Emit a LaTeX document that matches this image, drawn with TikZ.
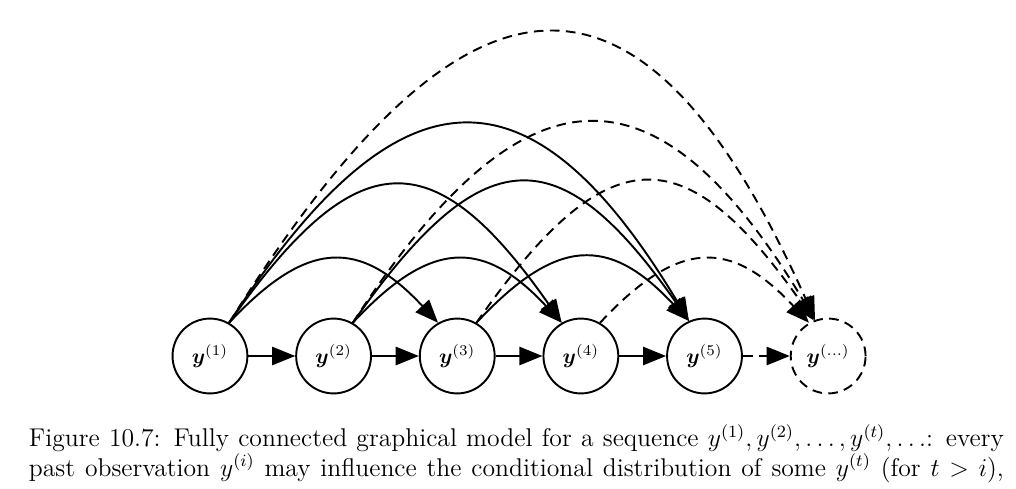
\documentclass[tikz,border=0pt]{standalone}
\usepackage{tikz}
\usetikzlibrary{positioning, arrows.meta}
\usepackage{amsmath, amssymb, bm}

\begin{document}
\begin{tikzpicture}[>={Triangle[length=3.8mm, width=3mm]}, line width=0.9pt,
    obs/.style={draw, circle, minimum size=1.23cm, inner sep=0pt},
    dashline/.style={dash pattern=on 4.5pt off 3pt},
    span2/.style={out=47, in=133, looseness=1.41},
    span3/.style={out=55, in=125, looseness=1.72},
    span4/.style={out=57, in=121, looseness=1.72},
    span5/.style={out=58, in=114, looseness=1.9}]
    \useasboundingbox (-3.45,-2.185) rectangle (13.245,5.85);

    \node [obs] (y1) at (0,0) {$\bm{y}^{(1)}$};
    \node [obs, right=0.77 of y1] (y2) {$\bm{y}^{(2)}$};
    \node [obs, right=0.77 of y2] (y3) {$\bm{y}^{(3)}$};
    \node [obs, right=0.77 of y3] (y4) {$\bm{y}^{(4)}$};
    \node [obs, right=0.77 of y4] (y5) {$\bm{y}^{(5)}$};
    \node [obs, dashline, right=0.77 of y5] (ydots) {$\bm{y}^{(\ldots)}$};

    % chain
    \draw [->] (y1) -- (y2);
    \draw [->] (y2) -- (y3);
    \draw [->] (y3) -- (y4);
    \draw [->] (y4) -- (y5);
    \draw [->, dashline] (y5) -- (ydots);

    % arcs over the chain
    \draw [->] (y1.60) to[span2] (y3.120);
    \draw [->] (y1.60) to[span3] (y4.120);
    \draw [->] (y1.60) to[span4] (y5.114);
    \draw [->] (y2.60) to[span2] (y4.120);
    \draw [->] (y2.60) to[span3] (y5.114);
    \draw [->] (y3.60) to[span2] (y5.114);

    % arcs to the rest of the sequence
    \draw [->, dashline] (y1.60) to[span5] (ydots.110);
    \draw [->, dashline] (y2.60) to[span4] (ydots.110);
    \draw [->, dashline] (y3.60) to[span3] (ydots.112);
    \draw [->, dashline] (y4.60) to[span2] (ydots.120);

    % caption
    \node [anchor=base west,
        text width=16.02cm,
        align=justify,
        inner sep=0pt
    ] (caption) at (-2.99,-1.49) {\fontsize{12}{12.6}\selectfont
        \parfillskip=0pt
        Figure 10.7: Fully connected graphical model for a sequence
        $y^{(1)}, y^{(2)}, \ldots, y^{(t)}, \ldots$: every\linebreak
        past observation $y^{(i)}$ may influence the conditional
        distribution of some $y^{(t)}$ (for $t > i$),\par};
\end{tikzpicture}
\end{document}
